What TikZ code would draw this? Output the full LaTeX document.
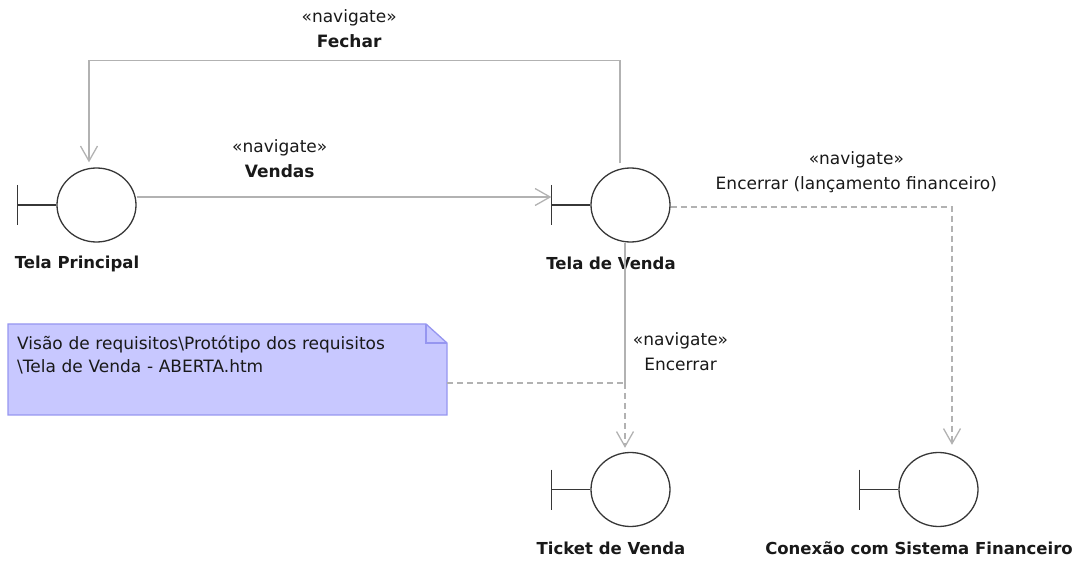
\documentclass[tikz,border=0pt]{standalone}
\usepackage{fontspec}
\setmainfont{DejaVu Sans}
\usetikzlibrary{arrows.meta,positioning,shapes.geometric,calc,backgrounds}
\definecolor{navgray}{RGB}{178,178,178}
\definecolor{bndgray}{RGB}{55,55,55}
\definecolor{notefill}{RGB}{200,200,255}
\definecolor{noteline}{RGB}{150,150,240}
\tikzset{
boundary/.style={ellipse, draw=bndgray, line width=1.3pt, minimum width=79pt, minimum height=74pt, inner sep=0pt},
blabel/.style={font=\fontsize{16.5}{20}\selectfont\bfseries, text=black!90},
nav/.style={draw=navgray, line width=1.3pt},
link/.style={nav, dash pattern=on 6pt off 4pt},
>={Straight Barb[length=15pt,width=17pt]},
navlabel/.style={align=center, font=\fontsize{17}{25}\selectfont, text=black!90},
notebox/.style={anchor=north west, text width=420pt, align=left, inner xsep=9pt, inner ysep=12pt,
                font=\fontsize{17}{23}\selectfont, text=black!90},
}

\begin{document}
\begin{tikzpicture}[x=1pt, y=-1pt]
    \useasboundingbox (0,0) rectangle (1085,561);

    \node[boundary] (TELA_PRINCIPAL) at (96.5,205) {};
    \node[boundary] (TELA_VENDA) at (630.5,205) {};
    \node[boundary] (TICKET_VENDA) at (630.5,489.5) {};
    \node[boundary] (CONEXAO_FIN) at (938.5,489.5) {};

    \foreach \nm/\txt in {TELA_PRINCIPAL/Tela Principal, TELA_VENDA/Tela de Venda,
                          TICKET_VENDA/Ticket de Venda, CONEXAO_FIN/Conexão com Sistema Financeiro}{
        \coordinate (\nm_BAR) at ([xshift=-39pt]\nm.west);
        \draw[bndgray, line width=1.3pt] (\nm.west) -- (\nm_BAR) ([yshift=20pt]\nm_BAR) -- ([yshift=-20pt]\nm_BAR);
        \node[blabel] (\nm_LBL) at ([xshift=-19.5pt,yshift=-21pt]\nm.south) {\txt};
    }

    \node[notebox] (NOTE) at (8,324) {Visão de requisitos\textbackslash Protótipo dos requisitos\\\textbackslash Tela de Venda - ABERTA.htm};
    \coordinate (NOTE_NE) at ([xshift=439pt]NOTE.north west);
    \coordinate (NOTE_SE) at ([xshift=439pt,yshift=-91pt]NOTE.north west);
    \begin{scope}[on background layer]
        \filldraw[fill=notefill, draw=noteline, line width=1.3pt] (NOTE.north west) -- ([xshift=-21pt]NOTE_NE)
            -- ([yshift=-19pt]NOTE_NE) -- (NOTE_SE) -- (NOTE.north west |- NOTE_SE) -- cycle;
        \draw[noteline, line width=1.3pt] ([xshift=-21pt]NOTE_NE) |- ([yshift=-19pt]NOTE_NE);
    \end{scope}

    \coordinate (ENC_MID) at (625,383);

    \draw[nav,->] ([xshift=-10.5pt,yshift=4pt]TELA_VENDA.north) -- ++(0,-103)
        -| node[navlabel, pos=0.255, above=9pt] {«navigate»\\\textbf{Fechar}} ([xshift=-7.5pt,yshift=5pt]TELA_PRINCIPAL.north);

    \draw[nav,->] ([yshift=8pt]TELA_PRINCIPAL.east) to node[navlabel, pos=0.345, above=15pt] {«navigate»\\\textbf{Vendas}} ([yshift=8pt]TELA_VENDA_BAR);

    \draw[nav] ([xshift=-5.5pt]TELA_VENDA.south) to node[navlabel, pos=0.78, right=4pt] {«navigate»\\Encerrar} (ENC_MID);
    \draw[link,->] (ENC_MID) -- ([xshift=-5.5pt,yshift=4pt]TICKET_VENDA.north);

    \draw[link,->] ([yshift=-2pt]TELA_VENDA.east)
        -| node[navlabel, pos=0.33, above=10pt] {«navigate»\\Encerrar (lançamento financeiro)} ([xshift=13.5pt,yshift=7pt]CONEXAO_FIN.north);

    \draw[link] (NOTE_SE |- ENC_MID) -- (ENC_MID);
\end{tikzpicture}
\end{document}
